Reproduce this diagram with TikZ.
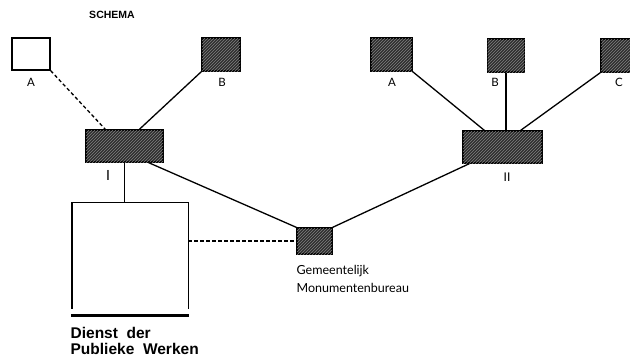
\documentclass[tikz,border=0pt]{standalone}
\usepackage{fontspec}
\newfontfamily\gillfont{Lato}
\newfontfamily\arialfont{Liberation Sans}
\usetikzlibrary{patterns}

\begin{document}
\begin{tikzpicture}[x=1pt,y=-1pt,line width=1.3pt,
    office/.style={draw,fill=black!82,postaction={pattern=north east lines,pattern color=black!50}},
    blank/.style={draw,fill=white},
    lbl/.style={font=\gillfont\fontsize{11.5}{12}\selectfont,inner sep=0pt},
    link/.style={line width=1.3pt},
    weak/.style={line width=1.3pt,dash pattern=on 3.5pt off 2.5pt}]
    \useasboundingbox (0,0) rectangle (630,357);
    % title
    \node[font=\arialfont\bfseries\fontsize{10.5}{12}\selectfont] (title) at (112,15) {SCHEMA};
    % left group
    \node[blank,minimum width=38,minimum height=32] (boxA) at (31,54) {};
    \node[office,minimum width=38,minimum height=33] (boxB) at (221,54.5) {};
    \node[office,minimum width=77,minimum height=32] (hubI) at (124.5,146) {};
    \node[minimum width=115,minimum height=105] (dienst) at (130,255.5) {};
    \node[office,minimum width=35,minimum height=26] (gem) at (314.5,241) {};
    % right group
    \node[office,minimum width=41,minimum height=33] (rA) at (391.5,54.5) {};
    \node[office,minimum width=37,minimum height=33] (rB) at (506,55.5) {};
    \node[office,minimum width=38,minimum height=33] (rC) at (620,55.5) {};
    \node[office,minimum width=79,minimum height=32] (hubII) at (502.5,147) {};
    % labels
    \node[lbl] (labA) at (31,82) {A};
    \node[lbl] (labB) at (222,82) {B};
    \node[lbl,font=\gillfont\fontsize{14}{14}\selectfont] (labI) at (108,175) {I};
    \node[lbl] (labrA) at (392,82) {A};
    \node[lbl] (labrB) at (495,82) {B};
    \node[lbl] (labrC) at (619,82) {C};
    \node[lbl,font=\gillfont\fontsize{12}{12}\selectfont] (labII) at (507,177) {II};
    \node[lbl,font=\gillfont\fontsize{12.5}{18}\selectfont,anchor=north west,align=left]
        (labgem) at (296,265) {Gemeentelijk\\Monumentenbureau};
    \node[font=\arialfont\bfseries\fontsize{15.5}{16}\selectfont,anchor=north west,align=left,inner sep=0pt]
        (labdienst) at (70,327) {Dienst\ \ der\\Publieke\ \ Werken};
    % dienst box (open bottom, heavy bar)
    \draw (dienst.south west) -- (dienst.north west) -- (dienst.north east) -- (dienst.south east);
    \draw[line width=2.6pt] ([xshift=-1,yshift=-7]dienst.south west) -- ([xshift=1,yshift=-7]dienst.south east);
    % connectors
    \draw[weak] (boxA.south east) -- ([xshift=20]hubI.north west);
    \draw[link] (boxB.south west) -- ([xshift=54]hubI.north west);
    \draw[link] (hubI.south) -- (hubI.south |- dienst.north);
    \draw[link] ([xshift=-15]hubI.south east) -- (gem.north west);
    \draw[weak] (gem.west -| dienst.east) -- (gem.west);
    \draw[link] (gem.north east) -- ([xshift=7]hubII.south west);
    \draw[link] (rA.south east) -- ([xshift=22]hubII.north west);
    \draw[link] (rB.south) -- (rB.south |- hubII.north);
    \draw[link] (rC.south west) -- ([xshift=-22]hubII.north east);
\end{tikzpicture}
\end{document}
